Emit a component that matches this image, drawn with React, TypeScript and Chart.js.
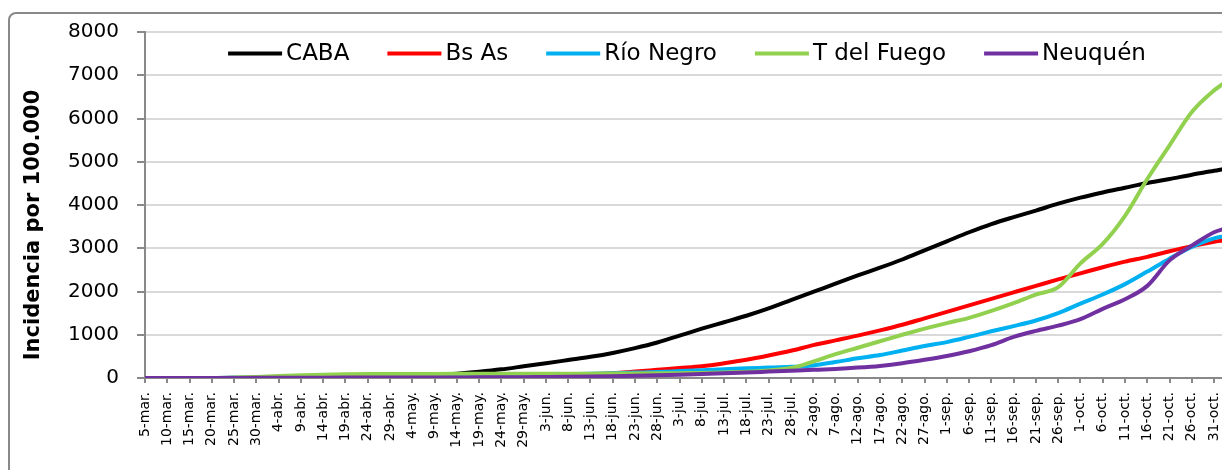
import React, { useEffect, useRef } from 'react';
import { Chart, registerables } from 'chart.js';

Chart.register(...registerables);

// Days since 5-mar (x values)
const days = [
  0, 5, 10, 15, 20, 25, 30, 35, 40, 45, 50, 55, 60, 65, 70, 75, 80, 85, 90, 95,
  100, 105, 110, 115, 120, 125, 130, 135, 140, 145, 150, 155, 160, 165, 170, 175, 180, 185, 190, 195,
  200, 205, 210, 215, 220, 225, 230, 235, 240, 242,
];

const tickLabels = [
  '5-mar.', '10-mar.', '15-mar.', '20-mar.', '25-mar.', '30-mar.', '4-abr.', '9-abr.', '14-abr.', '19-abr.',
  '24-abr.', '29-abr.', '4-may.', '9-may.', '14-may.', '19-may.', '24-may.', '29-may.', '3-jun.', '8-jun.',
  '13-jun.', '18-jun.', '23-jun.', '28-jun.', '3-jul.', '8-jul.', '13-jul.', '18-jul.', '23-jul.', '28-jul.',
  '2-ago.', '7-ago.', '12-ago.', '17-ago.', '22-ago.', '27-ago.', '1-sep.', '6-sep.', '11-sep.', '16-sep.',
  '21-sep.', '26-sep.', '1-oct.', '6-oct.', '11-oct.', '16-oct.', '21-oct.', '26-oct.', '31-oct.',
];

const seriesNames = ['CABA', 'Bs As', 'Río Negro', 'T del Fuego', 'Neuquén'];

const caba = [
  0, 0, 1, 2, 4, 8, 13, 18, 24, 30, 36, 43, 52, 68, 100, 145, 200, 270, 340, 415,
  490, 580, 690, 820, 980, 1140, 1290, 1440, 1610, 1800, 1990, 2180, 2370, 2550, 2740, 2950, 3160, 3370, 3560, 3720,
  3870, 4030, 4170, 4290, 4400, 4510, 4600, 4700, 4790, 4830,
];

const bsAs = [
  0, 0, 0, 0, 1, 2, 3, 4, 5, 6, 7, 8, 9, 11, 14, 18, 24, 32, 42, 58,
  82, 112, 150, 190, 230, 272, 340, 420, 520, 630, 760, 870, 980, 1100, 1230, 1380, 1530, 1680, 1830, 1980,
  2130, 2280, 2420, 2560, 2690, 2800, 2930, 3050, 3150, 3180,
];

const rioNegro = [
  0, 0, 0, 1, 3, 8, 15, 22, 28, 33, 38, 42, 46, 50, 55, 60, 66, 72, 80, 88,
  98, 110, 125, 140, 160, 180, 205, 225, 240, 258, 290, 370, 455, 530, 635, 740, 830, 950, 1080, 1200,
  1330, 1500, 1720, 1930, 2170, 2460, 2760, 3030, 3230, 3270,
];

const tDelFuego = [
  0, 0, 0, 2, 8, 25, 45, 62, 75, 85, 90, 92, 94, 95, 96, 97, 98, 99, 100, 100,
  101, 102, 104, 107, 112, 118, 128, 145, 175, 230, 380, 550, 700, 850, 1000, 1140, 1270, 1390, 1550, 1730,
  1930, 2100, 2650, 3100, 3750, 4600, 5380, 6150, 6650, 6800,
];

const neuquen = [
  0, 0, 0, 1, 2, 3, 5, 7, 8, 9, 10, 11, 12, 13, 14, 15, 17, 20, 24, 28,
  34, 42, 52, 63, 76, 92, 110, 128, 148, 168, 188, 210, 240, 280, 340, 420, 510, 620, 760, 950,
  1090, 1210, 1360, 1600, 1820, 2130, 2720, 3060, 3370, 3440,
];

const yTitle = 'Incidencia por 100.000';

const seriesValues = [caba, bsAs, rioNegro, tDelFuego, neuquen];
const seriesColors = ['#000000', '#FF0000', '#00B0F0', '#92D050', '#7030A0'];

const overlayPlugin = {
  id: 'overlay',
  afterDraw(chart: any) {
    const { ctx, chartArea } = chart;
    ctx.save();
    // Legend inside plot area
    ctx.font = '23px "DejaVu Sans"';
    const lineLen = 54;
    const gapLT = 4;
    const gapItem = 38;
    const widths = chart.data.datasets.map((d: any) => ctx.measureText(d.label).width);
    let total = 0;
    widths.forEach((w: number, i: number) => {
      total += lineLen + gapLT + w + (i < widths.length - 1 ? gapItem : 0);
    });
    const cx = (chartArea.left + chartArea.right) / 2 + 3;
    let x = cx - total / 2;
    const y = chartArea.top + 21.5;
    chart.data.datasets.forEach((d: any, i: number) => {
      ctx.strokeStyle = d.borderColor;
      ctx.lineWidth = 4;
      ctx.lineCap = 'butt';
      ctx.beginPath();
      ctx.moveTo(x, y);
      ctx.lineTo(x + lineLen, y);
      ctx.stroke();
      ctx.fillStyle = '#000';
      ctx.textAlign = 'left';
      ctx.textBaseline = 'middle';
      ctx.fillText(d.label, x + lineLen + gapLT, y + 1);
      x += lineLen + gapLT + widths[i] + gapItem;
    });
    // Y axis title
    ctx.translate(34, (chartArea.top + chartArea.bottom) / 2 + 20);
    ctx.rotate(-Math.PI / 2);
    ctx.font = 'bold 21px "DejaVu Sans"';
    ctx.textAlign = 'center';
    ctx.textBaseline = 'middle';
    ctx.fillStyle = '#000';
    ctx.fillText(yTitle, 0, 0);
    ctx.restore();
  },
};

export default function App() {
  const ref = useRef<HTMLCanvasElement>(null);

  useEffect(() => {
    document.body.style.overflow = 'hidden';
    const datasets = seriesNames.map((name, i) => ({
      label: name,
      data: days.map((d, j) => ({ x: d, y: seriesValues[i][j] })),
      borderColor: seriesColors[i],
      backgroundColor: seriesColors[i],
      borderWidth: 4,
      pointRadius: 0,
      cubicInterpolationMode: 'monotone' as const,
      order: seriesNames.length - 1 - i,
    }));
    const chart = new Chart(ref.current!, {
      type: 'line',
      data: { datasets },
      options: {
        animation: false,
        responsive: false,
        maintainAspectRatio: false,
        layout: { padding: { top: 32, right: 1, left: 0, bottom: 0 } },
        plugins: { legend: { display: false }, tooltip: { enabled: false } },
        scales: {
          x: {
            type: 'linear',
            min: 0,
            max: 242,
            afterFit: (s: any) => {
              s.height = 92;
              s.paddingLeft = 0;
              s.paddingRight = 0;
            },
            grid: { drawOnChartArea: false, drawTicks: true, tickLength: 5, color: '#898989', lineWidth: 2 },
            border: { display: true, color: '#898989', width: 2 },
            ticks: {
              stepSize: 5,
              autoSkip: false,
              includeBounds: false,
              minRotation: 90,
              maxRotation: 90,
              padding: 9,
              color: '#000',
              font: { family: 'DejaVu Sans', size: 14 },
              callback: (v: any) => tickLabels[Math.round(Number(v) / 5)] ?? '',
            },
          },
          y: {
            min: 0,
            max: 8000,
            afterFit: (s: any) => {
              s.width = 145;
            },
            grid: { color: '#D9D9D9', lineWidth: 2, tickColor: '#898989', tickLength: 8, tickWidth: 2 },
            border: { color: '#898989', width: 2 },
            ticks: {
              stepSize: 1000,
              padding: 18,
              color: '#000',
              font: { family: 'DejaVu Sans', size: 20 },
              callback: (v: any) => String(v),
            },
          },
        },
      },
      plugins: [overlayPlugin],
    });
    return () => chart.destroy();
  }, []);

  return (
    <div style={{ position: 'fixed', left: 0, top: 0, width: 1222, height: 470, overflow: 'hidden', background: '#fff' }}>
      <div
        style={{
          position: 'absolute',
          left: 8,
          top: 12,
          width: 1260,
          height: 500,
          border: '2px solid #898989',
          borderRadius: 8,
          boxSizing: 'border-box',
        }}
      />
      <canvas ref={ref} width={1224} height={470} style={{ position: 'absolute', left: 0, top: 0, width: 1224, height: 470 }} />
    </div>
  );
}
